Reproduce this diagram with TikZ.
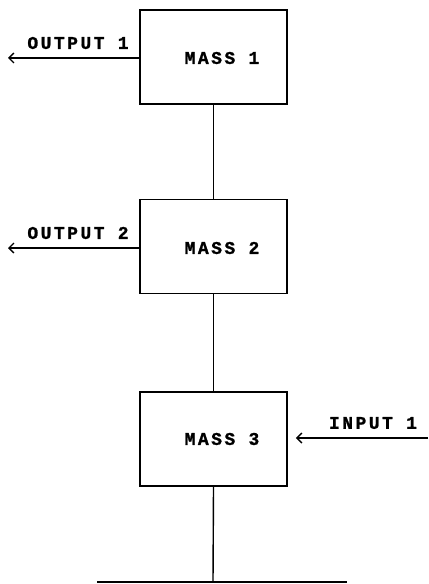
\documentclass[tikz,border=0pt]{standalone}
\usepackage{fontspec}
\newfontfamily\plotfont[LetterSpace=14,FakeBold=1.2]{Liberation Mono Bold}
\usetikzlibrary{arrows.meta}
\begin{document}
\begin{tikzpicture}[x=1bp,y=-1bp,
  massbox/.style={draw,line width=1.6bp,minimum width=147bp,minimum height=94bp,inner sep=0pt},
  txt/.style={font=\plotfont\fontsize{18}{18}\selectfont,inner sep=0pt},
  ln/.style={line width=1.4bp},
  arr/.style={ln,-{Straight Barb[length=5bp,width=10bp,line width=1.4bp]}}]
\useasboundingbox (0,0) rectangle (428,584);
\node[massbox] (m1) at (213.5,57) {};
\node[massbox] (m2) at (213.5,246.5) {};
\node[massbox] (m3) at (213.5,439) {};
\node[txt] (t1) at (222,58) {MASS 1};
\node[txt] (t2) at (222,248) {MASS 2};
\node[txt] (t3) at (222,439) {MASS 3};
\coordinate (o1) at (8,58);
\coordinate (o2) at (8,248);
\coordinate (i1) at (428,438);
\coordinate (g) at (213,582);
\coordinate (gl) at (97,582);
\coordinate (gr) at (347,582);
\draw[arr] (m1.west |- o1) -- (o1);
\draw[arr] (m2.west |- o2) -- (o2);
\draw[arr] (i1) -- ([xshift=8bp]m3.east |- i1);
\node[txt] (l1) at (78,43) {OUTPUT 1};
\node[txt] (l2) at (78,233) {OUTPUT 2};
\node[txt] (l3) at (373,423) {INPUT 1};
\draw[ln] (m1.south) -- (m2.north);
\draw[ln] (m2.south) -- (m3.north);
\draw[ln] (m3.south) -- (g);
\draw[ln] (gl) -- (gr);
\end{tikzpicture}
\end{document}
